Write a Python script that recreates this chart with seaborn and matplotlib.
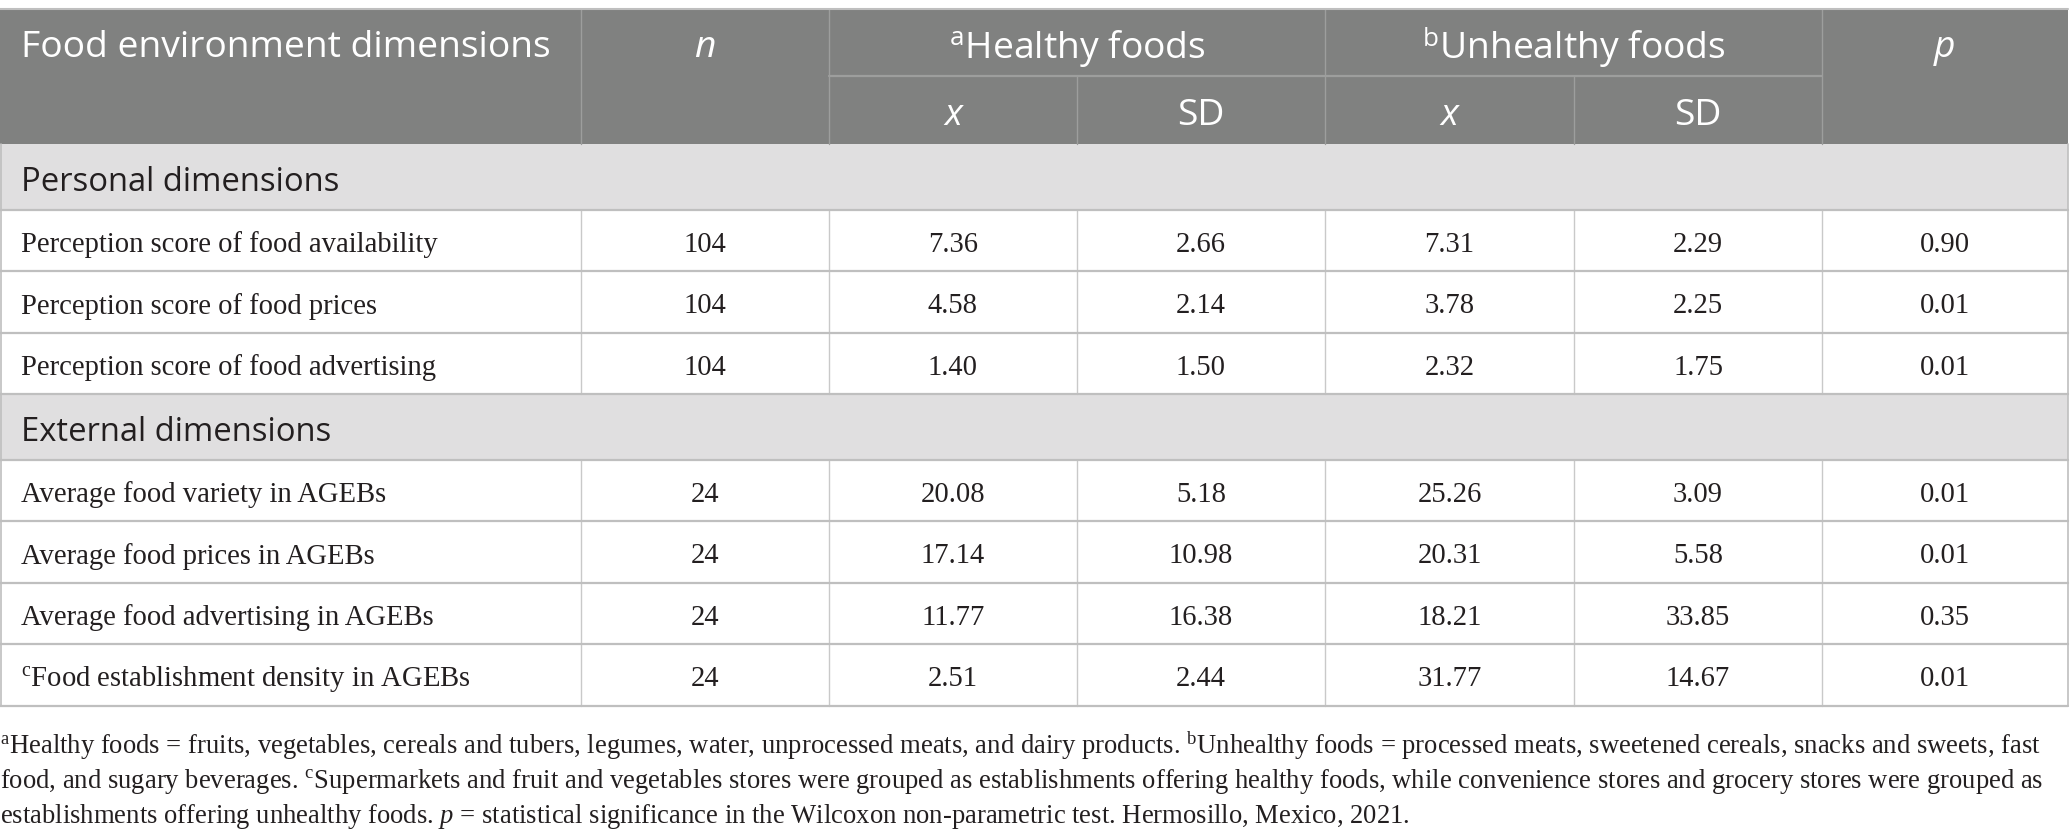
import matplotlib
matplotlib.use("Agg")
import matplotlib.pyplot as plt
from matplotlib.patches import Rectangle
import seaborn as sns
import pandas as pd

# ---------------- data ----------------
groups = ["Personal dimensions", "External dimensions"]
group_of_row = [0, 0, 0, 1, 1, 1, 1]
row_labels = [
    "Perception score of food availability",
    "Perception score of food prices",
    "Perception score of food advertising",
    "Average food variety in AGEBs",
    "Average food prices in AGEBs",
    "Average food advertising in AGEBs",
    r"$^{\mathrm{c}}$Food establishment density in AGEBs",
]
n_vals = [104, 104, 104, 24, 24, 24, 24]
healthy_mean = [7.36, 4.58, 1.40, 20.08, 17.14, 11.77, 2.51]
healthy_sd = [2.66, 2.14, 1.50, 5.18, 10.98, 16.38, 2.44]
unhealthy_mean = [7.31, 3.78, 2.32, 25.26, 20.31, 18.21, 31.77]
unhealthy_sd = [2.29, 2.25, 1.75, 3.09, 5.58, 33.85, 14.67]
p_vals = [0.90, 0.01, 0.01, 0.01, 0.01, 0.35, 0.01]

header_top = ["Food environment dimensions", "n", r"$^{\mathsf{a}}$Healthy foods",
              r"$^{\mathsf{b}}$Unhealthy foods", "p"]
header_sub = ["x", "SD", "x", "SD"]

footnotes = [
    r"$^{\mathrm{a}}$Healthy foods = fruits, vegetables, cereals and tubers, legumes, water, unprocessed meats, and dairy products. $^{\mathrm{b}}$Unhealthy foods = processed meats, sweetened cereals, snacks and sweets, fast",
    r"food, and sugary beverages. $^{\mathrm{c}}$Supermarkets and fruit and vegetables stores were grouped as establishments offering healthy foods, while convenience stores and grocery stores were grouped as",
    r"establishments offering unhealthy foods. $\mathit{p}$ = statistical significance in the Wilcoxon non-parametric test. Hermosillo, Mexico, 2021.",
]

df = pd.DataFrame({
    "label": row_labels, "group": group_of_row, "n": n_vals,
    "hx": healthy_mean, "hsd": healthy_sd,
    "ux": unhealthy_mean, "usd": unhealthy_sd, "p": p_vals,
})

# ---------------- style ----------------
sns.set_theme(style="white")
plt.rcParams["mathtext.fontset"] = "custom"
plt.rcParams["mathtext.rm"] = "Liberation Serif"
plt.rcParams["mathtext.it"] = "Liberation Serif:italic"
plt.rcParams["mathtext.sf"] = "Open Sans"

SANS = ["Open Sans", "DejaVu Sans"]
SERIF = ["Liberation Serif", "DejaVu Serif"]
HEAD_BG = "#808180"
HEAD_LINE = "#9d9e9d"
BAND_BG = "#e0dfe0"
GRID = "#bfbfbf"
VGRID = "#c9c9c9"
TXT = "#231f20"

W, H = 2070, 837
fig = plt.figure(figsize=(W / 100, H / 100), dpi=100)
ax = fig.add_axes([0, 0, 1, 1])
ax.set_xlim(0, W)
ax.set_ylim(H, 0)
ax.axis("off")

col_edges = [0, 581, 829, 1077, 1325, 1574, 1822, 2068]
head_y0, head_mid, head_y1 = 10, 77, 145
band_h, row_h = 65.5, 61.5

head_fs = 26.8
band_fs = 23.6
body_fs = 20.6
foot_fs = 19.2

# ---------------- header ----------------
ax.add_patch(Rectangle((col_edges[0], head_y0), col_edges[-1] - col_edges[0],
                       head_y1 - head_y0, facecolor=HEAD_BG, edgecolor="none", zorder=1))
ax.plot([col_edges[0], col_edges[-1]], [head_y0, head_y0], color=GRID, lw=1.5, zorder=3)
for x in [col_edges[1], col_edges[2], col_edges[4], col_edges[6]]:
    ax.plot([x, x], [head_y0, head_y1], color=HEAD_LINE, lw=1.0, zorder=2)
for x in [col_edges[3], col_edges[5]]:
    ax.plot([x, x], [head_mid, head_y1], color=HEAD_LINE, lw=1.0, zorder=2)
ax.plot([col_edges[2], col_edges[6]], [head_mid, head_mid], color=HEAD_LINE, lw=1.6, zorder=2)

top_spans = [(0, 1), (1, 2), (2, 4), (4, 6), (6, 7)]
ty = (head_y0 + head_mid) / 2 + 4.5
for i, (txt, (a, b)) in enumerate(zip(header_top, top_spans)):
    if i == 0:
        ax.text(col_edges[0] + 21, ty, txt, ha="left", va="center", color="white",
                fontsize=head_fs, family=SANS)
    else:
        ax.text((col_edges[a] + col_edges[b]) / 2, ty, txt, ha="center", va="center",
                color="white", fontsize=head_fs, family=SANS,
                style="italic" if txt in ("n", "p") else "normal")
sy = (head_mid + head_y1) / 2 + 4.5
for j, txt in enumerate(header_sub):
    a = 2 + j
    ax.text((col_edges[a] + col_edges[a + 1]) / 2, sy, txt, ha="center", va="center",
            color="white", fontsize=head_fs, family=SANS,
            style="italic" if txt == "x" else "normal")

# ---------------- body ----------------
y = head_y1
val_cols = ["n", "hx", "hsd", "ux", "usd", "p"]
for g, gname in enumerate(groups):
    ax.add_patch(Rectangle((col_edges[0], y), col_edges[-1] - col_edges[0], band_h,
                           facecolor=BAND_BG, edgecolor="none", zorder=1))
    ax.text(col_edges[0] + 21, y + band_h / 2 + 5, gname, ha="left", va="center",
            color=TXT, fontsize=band_fs, family=SANS)
    for x in [col_edges[0] + 1, col_edges[-1]]:
        ax.plot([x, x], [y, y + band_h], color=GRID, lw=1.2, zorder=2)
    y += band_h
    ax.plot([col_edges[0], col_edges[-1]], [y, y], color=GRID, lw=1.6, zorder=3)
    sub = df[df["group"] == g]
    for _, r in sub.iterrows():
        for x in col_edges[1:-1]:
            ax.plot([x, x], [y, y + row_h], color=VGRID, lw=1.0, zorder=2)
        for x in [col_edges[0] + 1, col_edges[-1]]:
            ax.plot([x, x], [y, y + row_h], color=GRID, lw=1.2, zorder=2)
        cy = y + row_h / 2 + 3.5
        ax.text(col_edges[0] + 21, cy, r["label"], ha="left", va="center", color=TXT,
                fontsize=body_fs, family=SERIF)
        for k, c in enumerate(val_cols):
            v = r[c]
            s = f"{int(v)}" if c == "n" else f"{v:.2f}"
            ax.text((col_edges[k + 1] + col_edges[k + 2]) / 2, cy, s, ha="center",
                    va="center", color=TXT, fontsize=body_fs, family=SERIF)
        y += row_h
        ax.plot([col_edges[0], col_edges[-1]], [y, y], color=GRID, lw=1.6, zorder=3)

# ---------------- footnotes ----------------
fy = 746
for line in footnotes:
    ax.text(0, fy, line, ha="left", va="center", color=TXT, fontsize=foot_fs, family=SERIF)
    fy += 35.5

fig.savefig("out.png", dpi=100, facecolor="white")
